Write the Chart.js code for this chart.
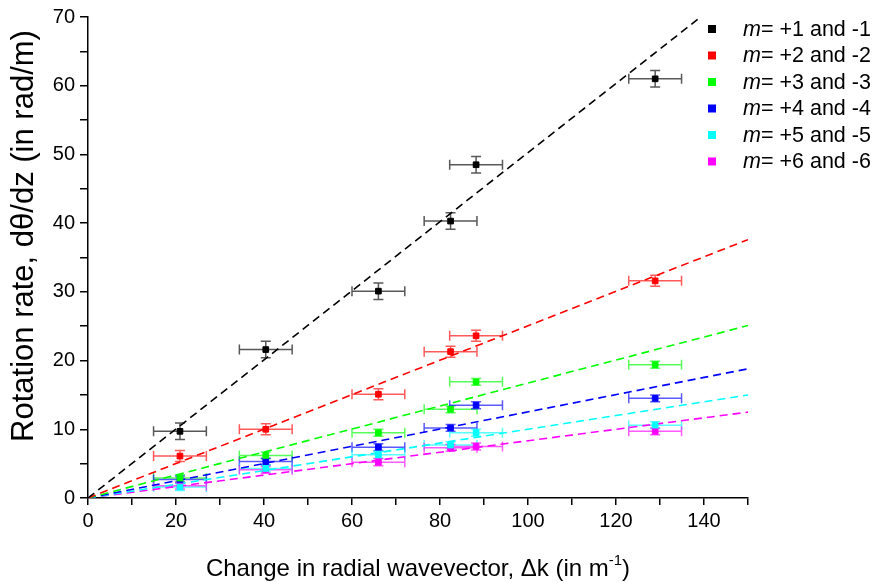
<!DOCTYPE html>
<html>
<head>
<meta charset="utf-8">
<script src="https://cdn.jsdelivr.net/npm/chart.js@4/dist/chart.umd.min.js"></script>
<style>
  html, body { margin: 0; padding: 0; background: #fff; }
  #wrap { width: 876px; height: 583px; position: relative; }
</style>
</head>
<body>
<div id="wrap"><canvas id="c" width="876" height="583"></canvas></div>
<script>
// ---- data ----
const seriesLabels = ['+1 and -1', '+2 and -2', '+3 and -3', '+4 and -4', '+5 and -5', '+6 and -6'];
const seriesColors = ['#000000', '#ff0000', '#00ff00', '#0000ff', '#00ffff', '#ff00ff'];
const xValues = [20.9, 40.4, 66.0, 82.4, 88.2, 128.9];
const xErrors = [6, 6, 6, 6, 6, 6];
const yM1 = [9.7, 21.6, 30.1, 40.3, 48.5, 61.0];
const yM2 = [6.1, 10.0, 15.1, 21.3, 23.6, 31.6];
const yM3 = [2.9, 6.2, 9.5, 12.9, 16.9, 19.4];
const yM4 = [2.7, 5.3, 7.4, 10.2, 13.5, 14.5];
const yM5 = [1.6, 4.3, 6.3, 7.7, 9.5, 10.6];
const yM6 = [1.8, 4.1, 5.2, 7.3, 7.5, 9.7];
const yErrM1 = [1.2, 1.2, 1.2, 1.2, 1.2, 1.2];
const yErrM2 = [0.8, 0.8, 0.8, 0.8, 0.8, 0.8];
const yErrM3 = [0.5, 0.5, 0.5, 0.5, 0.5, 0.5];
const yErrM4 = [0.5, 0.5, 0.5, 0.5, 0.5, 0.5];
const yErrM5 = [0.5, 0.5, 0.5, 0.5, 0.5, 0.5];
const yErrM6 = [0.5, 0.5, 0.5, 0.5, 0.5, 0.5];
const fitX = [0, 150];
const fitStartY = [0, 0, 0, 0, 0, 0];
const fitEndY = [75.4, 37.6, 25.1, 18.8, 15.0, 12.5];
const xTickLabels = [0, 20, 40, 60, 80, 100, 120, 140];
const yTickLabels = [0, 10, 20, 30, 40, 50, 60, 70];

const allY = [yM1, yM2, yM3, yM4, yM5, yM6];
const allYErr = [yErrM1, yErrM2, yErrM3, yErrM4, yErrM5, yErrM6];

const FONT = '"Liberation Sans", Arial, sans-serif';

function rgba(hex, a) {
  const n = parseInt(hex.slice(1), 16);
  return 'rgba(' + ((n >> 16) & 255) + ',' + ((n >> 8) & 255) + ',' + (n & 255) + ',' + a + ')';
}

const datasets = [];
seriesColors.forEach((col, i) => {
  datasets.push({
    label: 'fit' + i,
    data: [{x: fitX[0], y: fitStartY[i]}, {x: fitX[1], y: fitEndY[i]}],
    showLine: true,
    borderColor: col,
    borderWidth: 1.6,
    borderDash: [8, 5],
    pointRadius: 0,
    order: 10
  });
});
seriesColors.forEach((col, i) => {
  datasets.push({
    label: 'm= ' + seriesLabels[i],
    data: xValues.map((x, j) => ({x: x, y: allY[i][j]})),
    xErr: xErrors,
    yErr: allYErr[i],
    showLine: false,
    pointStyle: 'rect',
    pointRadius: 4,
    pointBackgroundColor: col,
    pointBorderColor: col,
    borderColor: col,
    backgroundColor: col,
    order: 1,
    isPoints: true
  });
});

const errorBarPlugin = {
  id: 'errorBars',
  beforeDatasetsDraw(chart) {
    const ctx = chart.ctx;
    const xs = chart.scales.x, ys = chart.scales.y;
    ctx.save();
    chart.data.datasets.forEach((ds) => {
      if (!ds.isPoints) return;
      const col = ds.borderColor;
      ctx.strokeStyle = col === '#000000' ? 'rgba(70,70,70,0.9)' : rgba(col, 0.65);
      ctx.lineWidth = 1.5;
      ds.data.forEach((p, j) => {
        const px = xs.getPixelForValue(p.x);
        const py = ys.getPixelForValue(p.y);
        const xl = xs.getPixelForValue(p.x - ds.xErr[j]);
        const xr = xs.getPixelForValue(p.x + ds.xErr[j]);
        const yt = ys.getPixelForValue(p.y + ds.yErr[j]);
        const yb = ys.getPixelForValue(p.y - ds.yErr[j]);
        ctx.beginPath();
        ctx.moveTo(xl, py); ctx.lineTo(xr, py);
        ctx.moveTo(xl, py - 5); ctx.lineTo(xl, py + 5);
        ctx.moveTo(xr, py - 5); ctx.lineTo(xr, py + 5);
        ctx.moveTo(px, yt); ctx.lineTo(px, yb);
        ctx.moveTo(px - 5, yt); ctx.lineTo(px + 5, yt);
        ctx.moveTo(px - 5, yb); ctx.lineTo(px + 5, yb);
        ctx.stroke();
      });
    });
    ctx.restore();
  }
};

const decorPlugin = {
  id: 'decor',
  afterDraw(chart) {
    const ctx = chart.ctx;
    const ca = chart.chartArea;
    ctx.save();
    ctx.fillStyle = '#000';
    // legend
    const lx = 712, ly0 = 29, dy = 26.5;
    ctx.textBaseline = 'middle';
    chart.data.datasets.filter(d => d.isPoints).forEach((ds, i) => {
      const y = ly0 + i * dy;
      ctx.fillStyle = ds.pointBackgroundColor;
      ctx.fillRect(lx - 4, y - 4, 8, 8);
      ctx.fillStyle = '#000';
      ctx.font = 'italic 21.5px ' + FONT;
      ctx.textAlign = 'left';
      ctx.fillText('m', 743, y + 1);
      const w = ctx.measureText('m').width;
      ctx.font = '21.5px ' + FONT;
      ctx.fillText('= ' + seriesLabels[i], 743 + w, y + 1);
    });
    // x title with superscript
    const main = 'Change in radial wavevector, \u0394k (in m';
    ctx.font = '24px ' + FONT;
    const wMain = ctx.measureText(main).width;
    ctx.font = '15px ' + FONT;
    const wSup = ctx.measureText('-1').width;
    ctx.font = '24px ' + FONT;
    const wEnd = ctx.measureText(')').width;
    const total = wMain + wSup + wEnd;
    let x0 = (ca.left + ca.right) / 2 - total / 2;
    const base = 576;
    ctx.textAlign = 'left';
    ctx.textBaseline = 'alphabetic';
    ctx.fillText(main, x0, base);
    ctx.font = '15px ' + FONT;
    ctx.fillText('-1', x0 + wMain, base - 11);
    ctx.font = '24px ' + FONT;
    ctx.fillText(')', x0 + wMain + wSup, base);
    // y title
    ctx.translate(24, 236);
    ctx.rotate(-Math.PI / 2);
    ctx.textAlign = 'center';
    ctx.textBaseline = 'middle';
    ctx.font = '31px ' + FONT;
    ctx.fillText('Rotation rate, d\u03b8/dz (in rad/m)', 0, 0);
    ctx.restore();
  }
};

new Chart(document.getElementById('c'), {
  type: 'scatter',
  data: { datasets: datasets },
  options: {
    responsive: false,
    animation: false,
    devicePixelRatio: 1,
    layout: { padding: { left: 0, right: 128, top: 15, bottom: 0 } },
    plugins: { legend: { display: false }, tooltip: { enabled: false } },
    scales: {
      x: {
        type: 'linear', min: 0, max: 150,
        afterFit(s) { s.height = 85; },
        border: { display: true, color: '#000', width: 1.5 },
        grid: { drawOnChartArea: false, drawTicks: true, tickLength: 7, color: '#000', lineWidth: 1.5 },
        ticks: {
          stepSize: 10, autoSkip: false, maxRotation: 0, color: '#000', padding: 4,
          font: { family: FONT, size: 20 },
          callback: (v) => xTickLabels.includes(v) ? String(v) : ''
        }
      },
      y: {
        type: 'linear', min: 0, max: 70,
        afterFit(s) { s.width = 88; },
        border: { display: true, color: '#000', width: 1.5 },
        grid: { drawOnChartArea: false, drawTicks: true, tickLength: 8, color: '#000', lineWidth: 1.5 },
        ticks: {
          stepSize: 5, autoSkip: false, color: '#000', padding: 5,
          font: { family: FONT, size: 20 },
          callback: (v) => yTickLabels.includes(v) ? String(v) : ''
        }
      }
    }
  },
  plugins: [errorBarPlugin, decorPlugin]
});
</script>
</body>
</html>
